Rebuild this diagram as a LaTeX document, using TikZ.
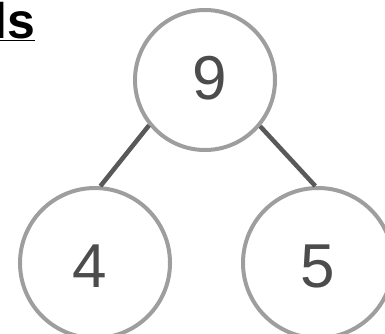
\documentclass[tikz,border=0pt]{standalone}
\usepackage{fontspec}
\setmainfont{Liberation Sans}
\begin{document}
\begin{tikzpicture}[x=1pt,y=-1pt,
  ring/.style={circle,draw=black!38,line width=4pt,inner sep=0pt},
  link/.style={draw=black!65,line width=4.5pt},
  digit/.style={text=black!70,font=\fontsize{62}{62}\selectfont}]
\useasboundingbox (0,0) rectangle (385,334);
\begin{scope}
\clip (0,0) rectangle (385,334);
\node[ring,minimum size=140pt] (top) at (205,80) {};
\node[ring,minimum size=150pt] (left) at (95,263) {};
\node[ring,minimum size=150pt] (right) at (318,263) {};
\node[digit] (n9) at (210,78) {9};
\node[digit] (n4) at (90,266) {4};
\node[digit] (n5) at (318,266) {5};
\node[anchor=north west,inner sep=0pt,font=\fontsize{50}{50}\selectfont\bfseries] (title) at (-7,2) {\underline{ls}};
\end{scope}
\draw[link] (top.219) -- (left.86);
\draw[link] (top.320) -- (right.92);
\end{tikzpicture}
\end{document}
